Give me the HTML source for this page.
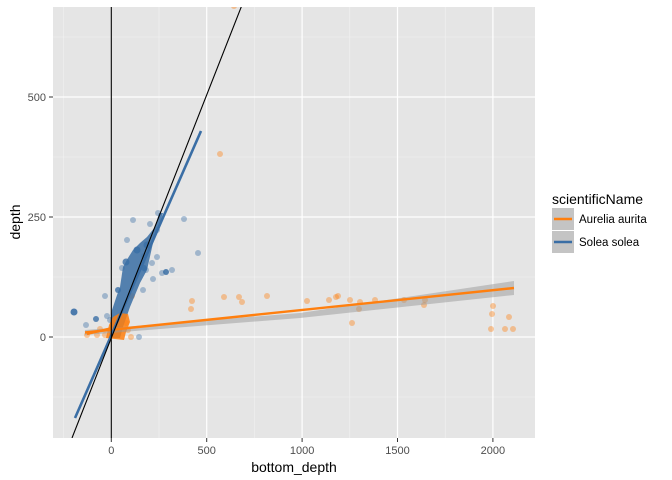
<!DOCTYPE html>
<html><head><style>
body{margin:0;background:#fff;}
svg{display:block;font-family:"Liberation Sans",sans-serif;}
</style></head><body>
<svg width="672" height="480" viewBox="0 0 672 480">
<defs><clipPath id="c"><rect x="53" y="7" width="482" height="431"/></clipPath></defs>
<rect x="53" y="7" width="482" height="431" fill="#e5e5e5"/>
<g stroke="#f2f2f2" stroke-width="0.6">
<line x1="53" x2="535" y1="397" y2="397"/><line x1="53" x2="535" y1="277" y2="277"/><line x1="53" x2="535" y1="157" y2="157"/><line x1="53" x2="535" y1="37" y2="37"/>
<line y1="7" y2="438" x1="63.6" x2="63.6"/><line y1="7" y2="438" x1="159" x2="159"/><line y1="7" y2="438" x1="254.4" x2="254.4"/><line y1="7" y2="438" x1="349.8" x2="349.8"/><line y1="7" y2="438" x1="445.2" x2="445.2"/>
</g>
<g stroke="#fff" stroke-width="1.2">
<line x1="53" x2="535" y1="337" y2="337"/><line x1="53" x2="535" y1="217" y2="217"/><line x1="53" x2="535" y1="97" y2="97"/>
<line y1="7" y2="438" x1="111.3" x2="111.3"/><line y1="7" y2="438" x1="206.7" x2="206.7"/><line y1="7" y2="438" x1="302.1" x2="302.1"/><line y1="7" y2="438" x1="397.5" x2="397.5"/><line y1="7" y2="438" x1="492.9" x2="492.9"/>
</g>
<g clip-path="url(#c)">
<g fill="#ff7f0e" fill-opacity="0.4">
<circle cx="234" cy="6" r="3"/><circle cx="220" cy="154" r="3"/><circle cx="192" cy="301" r="3"/><circle cx="191" cy="309" r="3"/><circle cx="224" cy="297" r="3"/><circle cx="239" cy="297" r="3"/><circle cx="242" cy="302" r="3"/><circle cx="267" cy="296" r="3"/><circle cx="307" cy="301" r="3"/><circle cx="329" cy="300" r="3"/><circle cx="336" cy="297" r="3"/><circle cx="338" cy="296" r="3"/><circle cx="350" cy="300" r="3"/><circle cx="360" cy="302" r="3"/><circle cx="352" cy="323" r="3"/><circle cx="359" cy="309" r="3"/><circle cx="375" cy="300" r="3"/><circle cx="404" cy="300" r="3"/><circle cx="425" cy="300" r="3"/><circle cx="424" cy="305" r="3"/><circle cx="493" cy="306" r="3"/><circle cx="492" cy="314" r="3"/><circle cx="509" cy="317" r="3"/><circle cx="491" cy="329" r="3"/><circle cx="505" cy="329" r="3"/><circle cx="513" cy="329" r="3"/><circle cx="97" cy="335" r="3"/><circle cx="87" cy="335" r="3"/><circle cx="131" cy="337" r="3"/><circle cx="128" cy="330" r="3"/><circle cx="126" cy="323" r="3"/><circle cx="132" cy="296" r="3"/><circle cx="100" cy="329" r="3"/><circle cx="105" cy="335" r="3"/>
</g>
<g fill="#3a6ea5" fill-opacity="0.4">
<circle cx="74" cy="312" r="3.5" fill-opacity="0.9"/><circle cx="96" cy="319" r="3" fill-opacity="0.8"/><circle cx="86" cy="325" r="3"/><circle cx="184" cy="219" r="3"/><circle cx="198" cy="253" r="3"/><circle cx="133" cy="220" r="3"/><circle cx="150" cy="224" r="3"/><circle cx="158" cy="213" r="3"/><circle cx="127" cy="240" r="3"/><circle cx="157" cy="257" r="3"/><circle cx="162" cy="273" r="3"/><circle cx="166" cy="272" r="3" fill-opacity="0.85"/><circle cx="172" cy="270" r="3"/><circle cx="153" cy="279" r="3"/><circle cx="105" cy="296" r="3"/><circle cx="139" cy="337" r="3"/><circle cx="107" cy="316" r="3"/><circle cx="152" cy="263" r="3"/><circle cx="144" cy="256" r="3"/><circle cx="146" cy="270" r="3"/><circle cx="157" cy="230" r="3"/><circle cx="143" cy="290" r="3"/><circle cx="122" cy="268" r="3"/><circle cx="110" cy="320" r="3"/>
</g>
<polygon fill="#3a6ea5" fill-opacity="0.85" points="109,338 112,310 117,295 120,287 123,267 128,258 133,250 140,243 147,237 155,227 159,213 163,213 158,230 153,243 147,270 140,283 130,307 123,327 120,338"/>
<g fill="#3a6ea5" fill-opacity="0.8"><circle cx="126" cy="262" r="3.5"/><circle cx="137" cy="250" r="3.5"/><circle cx="147" cy="245" r="3.5"/><circle cx="144" cy="268" r="3"/><circle cx="118" cy="290" r="3"/></g>
<polygon fill="#ff7f0e" fill-opacity="0.85" points="106,338 109,325 113,317 120,313 128,314 130,322 126,332 124,340"/>
<polygon fill="#999" fill-opacity="0.5" points="85,330 300,313 514,281 514,295 300,318 85,335"/>
<line x1="85" y1="332.5" x2="514" y2="288" stroke="#ff7f0e" stroke-width="2.4"/>
<line x1="87" y1="334" x2="112" y2="328" stroke="#ff7f0e" stroke-width="2.4"/>
<line x1="75" y1="418" x2="201" y2="131" stroke="#3a6ea5" stroke-width="2.6"/>
<line x1="72" y1="438" x2="242" y2="5" stroke="#000" stroke-width="1.1"/>
<line x1="111.3" y1="7" x2="111.3" y2="438" stroke="#000" stroke-width="1.1"/>
</g>
<g stroke="#333" stroke-width="1">
<line x1="49" x2="53" y1="337" y2="337"/><line x1="49" x2="53" y1="217" y2="217"/><line x1="49" x2="53" y1="97" y2="97"/>
<line y1="438" y2="442" x1="111.3" x2="111.3"/><line y1="438" y2="442" x1="206.7" x2="206.7"/><line y1="438" y2="442" x1="302.1" x2="302.1"/><line y1="438" y2="442" x1="397.5" x2="397.5"/><line y1="438" y2="442" x1="492.9" x2="492.9"/>
</g>
<g fill="#4d4d4d" font-size="11">
<g text-anchor="end"><text x="46" y="341">0</text><text x="46" y="221">250</text><text x="46" y="101">500</text></g>
<g text-anchor="middle"><text x="111.3" y="454">0</text><text x="206.7" y="454">500</text><text x="302.1" y="454">1000</text><text x="397.5" y="454">1500</text><text x="492.9" y="454">2000</text></g>
</g>
<text x="294" y="472" font-size="14" text-anchor="middle">bottom_depth</text>
<text x="20" y="222" font-size="14" text-anchor="middle" transform="rotate(-90 20 222)">depth</text>
<text x="552" y="204" font-size="14">scientificName</text>
<rect x="552" y="208" width="22" height="22" fill="#c4c4c4"/><rect x="552" y="231" width="22" height="22" fill="#c4c4c4"/>
<line x1="554" x2="572" y1="219" y2="219" stroke="#ff7f0e" stroke-width="2.4"/>
<line x1="554" x2="572" y1="242" y2="242" stroke="#3a6ea5" stroke-width="2.4"/>
<text x="579" y="223" font-size="11.5">Aurelia aurita</text>
<text x="579" y="246" font-size="11.5">Solea solea</text>
</svg>
</body></html>
